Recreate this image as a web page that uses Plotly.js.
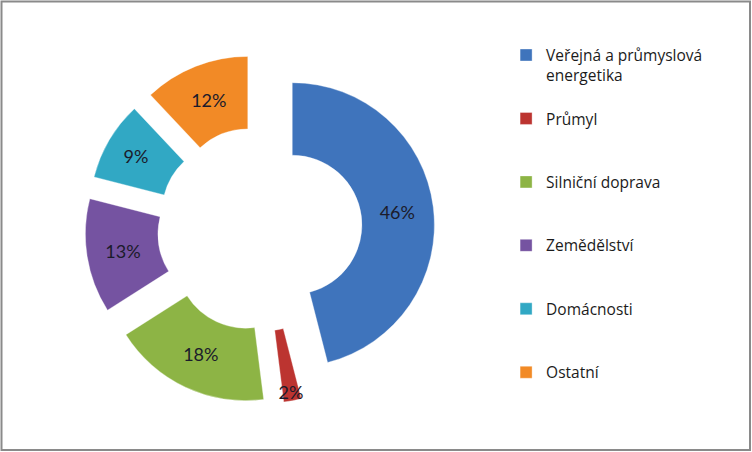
<!DOCTYPE html>
<html>
<head>
<meta charset="utf-8">
<script src="https://cdn.plot.ly/plotly-3.0.1.min.js"></script>
<style>html,body{margin:0;padding:0;background:#fff;}#chart{width:752px;height:452px;}</style>
</head>
<body>
<div id="chart"></div>
<script>
// Data
const categories = ["Veřejná a průmyslová<br>energetika", "Průmyl", "Silniční doprava", "Zemědělství", "Domácnosti", "Ostatní"];
const shares = [46, 2, 18, 13, 9, 12];
const sliceColors = ["#3F74BC", "#BC3430", "#8DB445", "#7553A1", "#31A8C4", "#F28A26"];

// pad legend entries to three lines so the entries are evenly spaced
const legendLabels = categories.map(function (c) {
  const n = c.split("<br>").length;
  let s = c;
  for (let i = n; i < 3; i++) s += "<br>\u00a0";
  return s;
});

const trace = {
  type: "pie",
  labels: legendLabels,
  values: shares,
  sort: false,
  direction: "clockwise",
  rotation: 0,
  hole: 0.49,
  pull: 0.23,
  marker: { colors: sliceColors, line: { color: "rgba(255,255,255,0.35)", width: 1 } },
  textinfo: "percent",
  texttemplate: "%{percent:.0%}",
  textposition: "inside",
  insidetextorientation: "horizontal",
  textfont: { family: "Lato, 'Open Sans', sans-serif", size: 18, color: "#1b1b2b" },
  domain: { x: [0.113, 0.578], y: [0.106, 0.881] },
  hoverinfo: "label+percent"
};

const layout = {
  width: 752,
  height: 452,
  margin: { l: 0, r: 0, t: 0, b: 0 },
  paper_bgcolor: "#ffffff",
  font: { family: "'Open Sans', sans-serif", color: "#1b1b1b" },
  showlegend: true,
  uniformtext: { mode: "show", minsize: 18 },
  legend: {
    x: 0.673, xanchor: "left",
    y: 0.915, yanchor: "top",
    valign: "top",
    font: { family: "'Open Sans', sans-serif", size: 15.5, color: "#1b1b1b" },
    bgcolor: "rgba(0,0,0,0)",
    traceorder: "normal"
  },
  shapes: [{
    type: "rect", xref: "paper", yref: "paper",
    x0: 1.5 / 752, x1: 1 - 2 / 752, y0: 2 / 452, y1: 1 - 1.5 / 452,
    line: { color: "#8a8a8a", width: 2 }
  }]
};

Plotly.newPlot("chart", [trace], layout, { staticPlot: true });
</script>
</body>
</html>
